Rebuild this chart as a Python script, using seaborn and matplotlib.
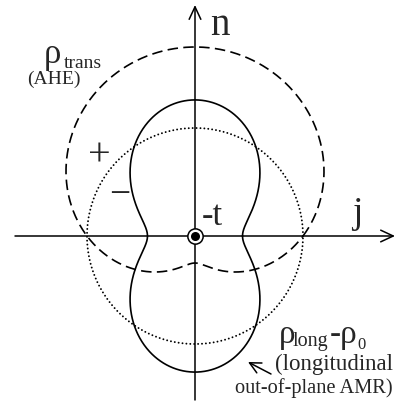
import numpy as np
import pandas as pd
import matplotlib
matplotlib.use("Agg")
import matplotlib.pyplot as plt
import seaborn as sns

# ---- values (radii in units of the dotted circle) ----
directions = ["j (0°)", "n (90°)", "-j (180°)", "-n (270°)"]
rho0_radius = [1.0, 1.0, 1.0, 1.0]            # dotted reference circle
rho_trans_radius = [1.0, 1.75, 1.0, 0.25]     # dashed: rho_trans (AHE)
rho_long_radius = [0.44, 1.26, 0.44, 1.26]    # solid: rho_long - rho_0 (AMR)

axis_labels = ["n", "j", "-t"]
sign_labels = ["+", "\u2212"]
trans_label = ["\u03c1", "trans", "(AHE)"]
long_label = ["\u03c1", "long", "-\u03c1", "0", "(longitudinal", "out-of-plane AMR)"]

sns.set_theme(style="white")
plt.rcParams["font.family"] = ["Liberation Serif", "DejaVu Serif"]

S = 108.0  # pixels per unit


def P(xp, yp):
    return ((xp - 195) / S, (236 - yp) / S)


theta = np.linspace(0, 2 * np.pi, 1441)
r_dot = np.full_like(theta, rho0_radius[0])
c0 = (rho_trans_radius[1] + rho_trans_radius[3]) / 2
c1 = (rho_trans_radius[1] - rho_trans_radius[3]) / 2
r_dash = c0 + c1 * np.sin(theta)
r_solid = rho_long_radius[0] + (rho_long_radius[1] - rho_long_radius[0]) * np.sin(theta) ** 2

df = pd.concat([
    pd.DataFrame({"x": r * np.cos(theta), "y": r * np.sin(theta), "curve": name})
    for r, name in [(r_dot, "rho0"), (r_dash, "trans"), (r_solid, "long")]
])

fig = plt.figure(figsize=(3.95, 4.01), dpi=100)
ax = fig.add_axes([0, 0, 1, 1])
ax.set_xlim(-195 / S, 200 / S)
ax.set_ylim((236 - 401) / S, 236 / S)
ax.set_axis_off()

# axes with arrows
arrow_kw = dict(arrowstyle="->,head_length=0.9,head_width=0.42", lw=1.1, color="black",
                shrinkA=0, shrinkB=0, mutation_scale=10)
ax.annotate("", xy=P(395, 236), xytext=P(15, 236), arrowprops=arrow_kw)
ax.annotate("", xy=P(195, 5), xytext=P(195, 400), arrowprops=arrow_kw)

sns.lineplot(data=df[df.curve == "rho0"], x="x", y="y", sort=False, estimator=None, ax=ax,
             color="black", lw=1.4, linestyle=(0, (0.01, 2.0)), dash_capstyle="round")
sns.lineplot(data=df[df.curve == "trans"], x="x", y="y", sort=False, estimator=None, ax=ax,
             color="black", lw=1.2, linestyle=(0, (6.3, 3.2)))
sns.lineplot(data=df[df.curve == "long"], x="x", y="y", sort=False, estimator=None, ax=ax,
             color="black", lw=1.2)

ax.set_xlabel("")
ax.set_ylabel("")

# origin symbol (-t out of plane)
ax.plot([0], [0], marker="o", ms=11, mfc="white", mec="black", mew=1.1, zorder=5)
ax.plot([0], [0], marker="o", ms=6.5, mfc="black", mec="black", mew=0, zorder=6)

# texts
ax.text(*P(210, 35), axis_labels[0], fontsize=28, ha="left", va="baseline")
ax.text(*P(357, 223), axis_labels[1], fontsize=27, ha="center", va="baseline")
ax.text(*P(202, 225), axis_labels[2], fontsize=25, ha="left", va="baseline")

ax.text(*P(99, 165), sign_labels[0], fontsize=29, ha="center", va="baseline")
ax.text(*P(120, 205), sign_labels[1], fontsize=27, ha="center", va="baseline")

ax.text(*P(44, 63), trans_label[0], fontsize=25, ha="left", va="baseline")
ax.text(*P(64, 68), trans_label[1], fontsize=14, ha="left", va="baseline")
ax.text(*P(27, 84), trans_label[2], fontsize=14, ha="left", va="baseline")

ax.text(*P(279, 343), long_label[0], fontsize=24, ha="left", va="baseline")
ax.text(*P(293, 346), long_label[1], fontsize=14.5, ha="left", va="baseline")
ax.text(*P(330, 343), long_label[2], fontsize=24, ha="left", va="baseline")
ax.text(*P(357, 349), long_label[3], fontsize=12, ha="left", va="baseline")
ax.text(*P(393, 370), long_label[4], fontsize=16.5, ha="right", va="baseline")
ax.text(*P(393, 393), long_label[5], fontsize=14.7, ha="right", va="baseline")

ax.annotate("", xy=P(248, 362), xytext=P(271, 374),
            arrowprops=dict(arrowstyle="->,head_length=0.8,head_width=0.4", lw=1.1,
                            color="black", shrinkA=0, shrinkB=0, mutation_scale=10))

fig.savefig("out.png", dpi=100)
